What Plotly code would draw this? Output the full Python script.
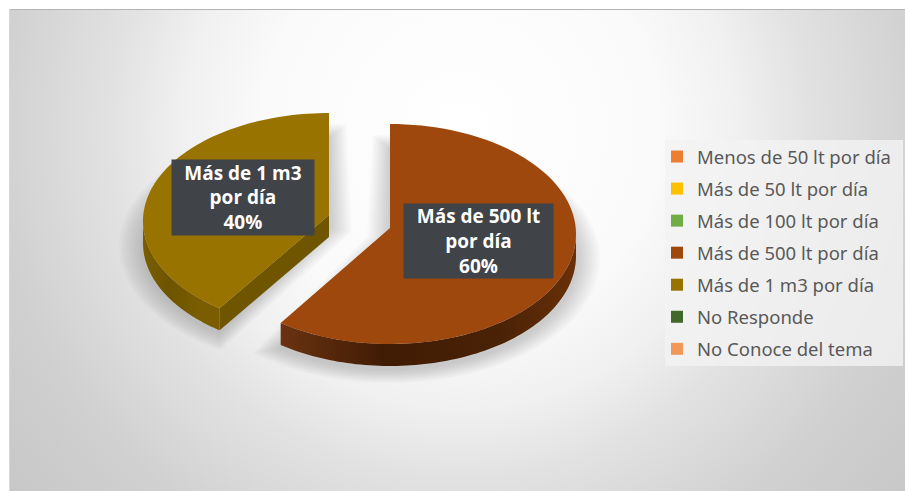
import numpy as np
import plotly.graph_objects as go

categories = ["Menos de 50 lt por día", "Más de 50 lt por día", "Más de 100 lt por día",
              "Más de 500 lt por día", "Más de 1 m3 por día", "No Responde", "No Conoce del tema"]
values = [0, 0, 0, 60, 40, 0, 0]
colors = ["#ED7D31", "#FFC000", "#70AD47", "#9E480E", "#997300", "#43682B", "#F1975A"]

# The page has an 8 px body margin: axes are mapped to page pixels
OFF = 8
W, H = 905, 492
RX, DEPTH, APEX_LIFT = 186, 22, 6
RYS = {3: 110, 4: 108}
CENTERS = {3: (390, 234), 4: (329, 221)}
SIDE = {3: ["#6a3212", "#401c04", "#4a2206", "#6a3008"], 4: ["#7a5d00", "#6e5400", "#7a5d00", "#7a5d00"]}

bg_svg = ("data:image/svg+xml;utf8,<svg xmlns='http://www.w3.org/2000/svg' width='896' height='482'>"
          "<defs><radialGradient id='g' gradientUnits='userSpaceOnUse' cx='451' cy='121' r='570'>"
          "<stop offset='0' stop-color='%23ffffff'/><stop offset='0.35' stop-color='%23fafafa'/>"
          "<stop offset='0.49' stop-color='%23f0f0f0'/><stop offset='0.61' stop-color='%23e2e2e2'/>"
          "<stop offset='0.82' stop-color='%23d0d0d0'/>"
          "<stop offset='1' stop-color='%23c8c8c8'/></radialGradient></defs>"
          "<rect width='896' height='482' fill='url(%23g)'/></svg>")


def arc(cx, cy, ry, a0, a1, n=90, dy=0, grow=0):
    t = np.radians(np.linspace(a0, a1, n))
    return cx + (RX + grow) * np.sin(t), cy + dy - (ry + grow * ry / RX) * np.cos(t)


def spans():
    total = sum(values)
    start = 0.0
    for i, v in enumerate(values):
        end = start + 360.0 * v / total
        yield i, start, end
        start = end


fig = go.Figure()
for i, a0, a1 in spans():
    if values[i] == 0:
        continue
    cx, cy = CENTERS[i]
    ry = RYS[i]
    apex_y = cy - APEX_LIFT
    mid = np.radians((a0 + a1) / 2)
    # soft shadow: growing copies of the slice, apex pushed back along the bisector
    for g in range(24, 0, -2):
        x, y = arc(cx, cy, ry, a0 - g / 5, a1 + g / 5, dy=DEPTH + 3, grow=g)
        ax = cx - g * np.sin(mid)
        ay = cy + DEPTH * 0.3 + g * 0.58 * np.cos(mid)
        fig.add_trace(go.Scatter(x=np.r_[x, ax], y=np.r_[y, ay], fill="toself", mode="none",
                                 fillcolor="rgba(70,70,70,0.024)", showlegend=False, hoverinfo="skip"))
    # outer rim visible only in the lower half of the ellipse
    lo, hi = max(a0, 90), min(a1, 270)
    x, y = arc(cx, cy, ry, lo, hi)
    xs = np.r_[x, x[::-1]]
    ys = np.r_[y, (y + DEPTH)[::-1]]
    fig.add_trace(go.Scatter(x=xs, y=ys, fill="toself", mode="none", showlegend=False, hoverinfo="skip",
                             fillgradient=dict(type="horizontal", colorscale=[[0, SIDE[i][0]], [0.35, SIDE[i][1]], [0.75, SIDE[i][2]], [1, SIDE[i][3]]])))
    # cut wall facing the viewer
    if a1 >= 360 and a0 > 180:
        x, y = arc(cx, cy, ry, a0, a0, n=1)
        fig.add_trace(go.Scatter(x=[cx, x[0], x[0], cx], y=[apex_y, y[0], y[0] + DEPTH, apex_y + DEPTH], fill="toself",
                                 mode="none", fillcolor="#6f5500", showlegend=False, hoverinfo="skip"))
    # top face
    x, y = arc(cx, cy, ry, a0, a1)
    fig.add_trace(go.Scatter(x=np.r_[cx, x, cx], y=np.r_[apex_y, y, apex_y], fill="toself", mode="none",
                             fillcolor=colors[i], showlegend=False, hoverinfo="skip"))

# legend entries
for i, name in enumerate(categories):
    fig.add_trace(go.Scatter(x=[None], y=[None], mode="markers", name=name, legendgroup=name,
                             marker=dict(symbol="square", size=11, color=colors[i])))

label_box = {3: (478.5, 241, 149, 74), 4: (243, 197.5, 142, 75)}
label_text = {3: "Más de 500 lt<br>por día<br>%d%%", 4: "Más de 1 m3<br>por día<br>%d%%"}
for i, (x, y, w, h) in label_box.items():
    fig.add_annotation(x=x, y=y, xref="x", yref="y", text="<b>" + label_text[i] % values[i] + "</b>", showarrow=False,
                       width=w, height=h, bgcolor="#404347", align="center", valign="middle", borderpad=0,
                       font=dict(family="Open Sans", size=19, color="white"))

PW, PH = W - OFF, H - OFF
fig.update_layout(
    width=PW, height=PH, margin=dict(l=0, r=0, t=0, b=0), paper_bgcolor="white", plot_bgcolor="rgba(0,0,0,0)",
    showlegend=True,
    xaxis=dict(range=[OFF, W], visible=False, fixedrange=True),
    yaxis=dict(range=[H, OFF], visible=False, fixedrange=True),
    images=[dict(source=bg_svg, xref="x", yref="y", x=9, y=9, sizex=896, sizey=482, sizing="stretch", layer="below")],
    shapes=[dict(type="line", xref="x", yref="y", x0=9, x1=905, y0=9.5, y1=9.5, line=dict(color="#b4b4b4", width=1)),
            dict(type="line", xref="x", yref="y", x0=9.5, x1=9.5, y0=9, y1=491, line=dict(color="#d8d8d8", width=1)),
            dict(type="rect", xref="x", yref="y", x0=665, x1=903, y0=140, y1=366, fillcolor="rgba(243,243,243,0.8)",
                 line=dict(width=0), layer="above")],
    legend=dict(x=(657 - OFF) / PW, y=1 - (138 - OFF) / PH, xanchor="left", yanchor="top", bgcolor="rgba(0,0,0,0)",
                font=dict(family="Noto Sans", size=18.5, color="#595959"), tracegroupgap=5, traceorder="grouped",
                itemsizing="constant", itemclick=False, itemdoubleclick=False),
)
fig.write_html("out.html", default_width="897px", default_height="484px",
               post_script="document.body.style.overflow='hidden';document.body.style.width='897px';"
                           "document.documentElement.style.overflow='hidden';")
